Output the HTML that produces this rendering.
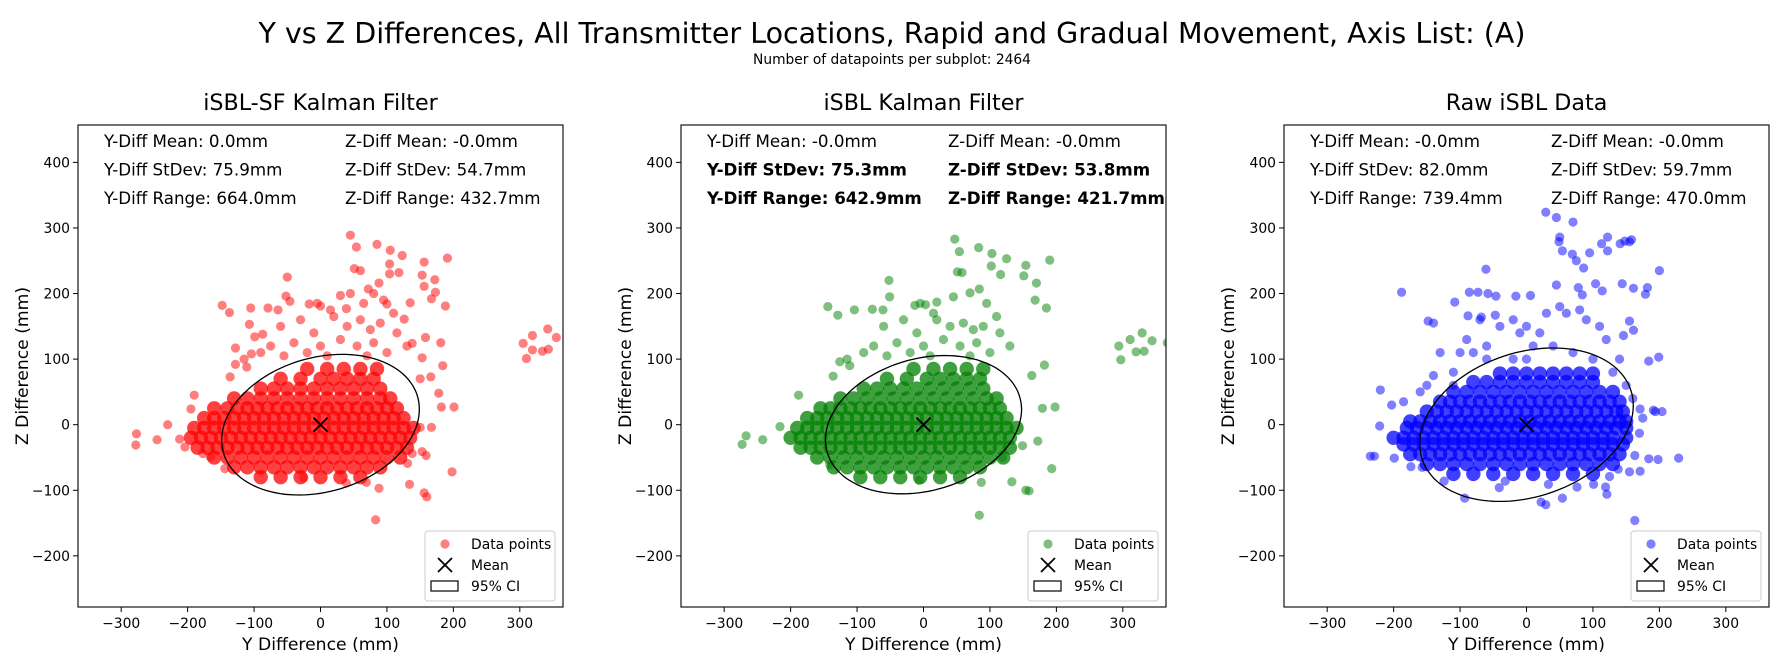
<!DOCTYPE html>
<html>
<head>
<meta charset="utf-8">
<style>
html,body{margin:0;padding:0;background:#fff;}
svg{display:block;font-family:"DejaVu Sans","Liberation Sans",sans-serif;}
</style>
</head>
<body>
<svg id="fig" width="1784" height="666" viewBox="0 0 1784 666" xmlns="http://www.w3.org/2000/svg">
<rect width="1784" height="666" fill="#fff"/>
<text x="892" y="43" font-size="28.5" text-anchor="middle" fill="#000">Y vs Z Differences, All Transmitter Locations, Rapid and Gradual Movement, Axis List: (A)</text>
<text x="892" y="64" font-size="13.8" text-anchor="middle" fill="#000">Number of datapoints per subplot: 2464</text>
</svg>
<script>
// ---- data ----
const panelTitles = ["iSBL-SF Kalman Filter", "iSBL Kalman Filter", "Raw iSBL Data"];
const panelColors = ["#ff0000", "#008000", "#0000ff"];
const xTicks = [-300, -200, -100, 0, 100, 200, 300];
const yTicks = [-200, -100, 0, 100, 200, 300, 400];
const yMeans = ["0.0", "-0.0", "-0.0"];
const zMeans = ["-0.0", "-0.0", "-0.0"];
const yStd = [75.9, 75.3, 82.0];
const zStd = [54.7, 53.8, 59.7];
const yRange = ["664.0", "642.9", "739.4"];
const zRange = ["432.7", "421.7", "470.0"];
const corr = [0.22, 0.22, 0.25];

const redCoreZ = [-80,-65,-50,-35,-20,-5,10,25,40,55,70,85];
const redCoreX = [
 [-90,-60,-30,0,30,60],
 [-130,-110,-90,-70,-50,-30,-10,10,30,50,70,90],
 [-160,-140,-120,-100,-80,-60,-40,-20,0,20,40,60,80,100,120],
 [-185,-170,-155,-140,-125,-110,-95,-80,-65,-50,-35,-20,-5,10,25,40,55,70,85,100,115,130],
 [-195,-180,-165,-150,-135,-120,-105,-90,-75,-60,-45,-30,-15,0,15,30,45,60,75,90,105,120,135],
 [-190,-175,-160,-145,-130,-115,-100,-85,-70,-55,-40,-25,-10,5,20,35,50,65,80,95,110,125,140],
 [-175,-160,-145,-130,-115,-100,-85,-70,-55,-40,-25,-10,5,20,35,50,65,80,95,110,125],
 [-160,-140,-125,-110,-95,-80,-65,-50,-35,-20,-5,10,25,40,55,70,85,100,115],
 [-130,-110,-90,-70,-50,-30,-10,10,30,50,70,90,105],
 [-90,-70,-50,-30,-10,10,30,50,70,90],
 [-60,-30,0,20,40,60,80],
 [-20,10,35,60,85]
];
const redOutY = [45,54,85,105,123,191,156,104,51,60,118,153,172,-50,104,88,156,173,72,167,30,-52,-148,-137,-105,-79,-64,-46,-17,188,135,100,39,0,-107,-87,-99,126,181,-128,-104,-128,-136,-111,158,138,153,184,166,150,-190,178,182,201,-195,-230,-277,-278,-246,-212,-204,167,150,153,159,138,131,198,88,134,156,160,39,69,83,-25,-144,-177,-166,305,310,319,342,355,319,343,334,-60,-30,-10,20,40,60,75,90,-40,0,30,55,80,100,-75,-90,-115,115,130,-55,10,-20,70,45,65,80,95,-5,15,110];
const redOutZ = [289,271,275,266,258,254,248,245,238,235,232,228,221,225,230,216,211,202,207,192,197,196,182,171,178,178,175,188,184,181,186,184,177,181,153,138,134,161,125,117,108,92,73,88,133,124,102,90,73,70,45,48,27,27,24,0,-14,-31,-23,-22,-34,-4,-4,-41,-47,-44,-59,-72,-97,-91,-104,-110,-89,-88,-145,-81,-67,-44,-49,124,101,136,146,133,114,115,112,150,160,140,165,150,160,145,155,125,120,130,120,125,110,120,110,100,140,120,105,105,110,105,200,185,200,190,185,175,170];

const greenCoreZ = [-80,-65,-50,-35,-20,-5,10,25,40,55,70,85];
const greenCoreX = [
 [-95,-65,-35,-5,25,55],
 [-135,-115,-95,-75,-55,-35,-15,5,25,45,65,85],
 [-160,-140,-120,-100,-80,-60,-40,-20,0,20,40,60,80,100,120],
 [-185,-170,-155,-140,-125,-110,-95,-80,-65,-50,-35,-20,-5,10,25,40,55,70,85,100,115,130],
 [-200,-185,-170,-155,-140,-125,-110,-95,-80,-65,-50,-35,-20,-5,10,25,40,55,70,85,100,115,130],
 [-190,-175,-160,-145,-130,-115,-100,-85,-70,-55,-40,-25,-10,5,20,35,50,65,80,95,110,125,140],
 [-175,-160,-145,-130,-115,-100,-85,-70,-55,-40,-25,-10,5,20,35,50,65,80,95,110,125],
 [-155,-140,-125,-110,-95,-80,-65,-50,-35,-20,-5,10,25,40,55,70,85,100,115],
 [-125,-105,-85,-65,-45,-25,-5,15,35,55,75,95,110],
 [-90,-70,-50,-30,-10,10,30,50,70,90],
 [-55,-25,5,25,45,65,85],
 [-15,15,40,65,90]
];
const greenOutY = [47,54,83,103,125,190,154,102,51,58,116,151,-52,170,-144,-129,-104,-77,-61,-13,3,20,185,168,84,70,-51,294,297,311,329,344,320,332,367,-188,-216,-267,-273,-242,198,179,182,163,193,87,133,154,159,84,-7,-141,-136,-126,-111,119,172,149,-60,-30,-10,20,40,60,75,90,-40,0,30,55,80,100,-75,-90,-115,115,130,-55,10,-20,70,45,95,-5,15,110];
const greenOutZ = [283,264,270,261,253,251,243,242,233,232,229,227,220,216,180,167,175,176,175,182,183,187,178,190,207,201,195,120,99,130,140,128,111,112,125,45,-3,-17,-30,-23,27,25,91,75,-67,-88,-87,-100,-101,-138,-85,-61,74,96,90,-50,-25,-32,150,160,140,160,150,155,145,150,125,120,130,120,125,110,120,110,100,140,120,105,105,110,105,195,185,185,170,165];

const blueCoreZ = [-75,-60,-45,-30,-20,-5,5,20,35,50,65,78];
const blueCoreX = [
 [-110,-80,-50,-20,10,40,70,100],
 [-150,-130,-110,-90,-70,-50,-30,-10,10,30,50,70,90,110,130],
 [-175,-160,-145,-130,-115,-100,-85,-70,-55,-40,-25,-10,5,20,35,50,65,80,95,110,125,140],
 [-185,-170,-155,-140,-125,-110,-95,-80,-65,-50,-35,-20,-5,10,25,40,55,70,85,100,115,130,145],
 [-200,-185,-170,-155,-140,-125,-110,-95,-80,-65,-50,-35,-20,-5,10,25,40,55,70,85,100,115,130,150],
 [-180,-165,-150,-135,-120,-105,-90,-75,-60,-45,-30,-15,0,15,30,45,60,75,90,105,120,135,150],
 [-175,-160,-145,-130,-115,-100,-85,-70,-55,-40,-25,-10,5,20,35,50,65,80,95,110,125,140,150],
 [-150,-135,-120,-105,-90,-75,-60,-45,-30,-15,0,15,30,45,60,75,90,105,120,135,145],
 [-130,-115,-100,-85,-70,-55,-40,-25,-10,5,20,35,50,65,80,95,110,125,140],
 [-110,-90,-70,-50,-30,-10,10,30,50,70,90,110,130],
 [-80,-60,-40,-20,0,20,40,60,80,100],
 [-40,-20,0,20,40,60,80,100]
];
const blueOutY = [29,45,70,50,49,54,69,75,86,95,113,122,122,141,148,155,158,200,-61,-188,-86,-73,-58,-46,-16,6,45,104,114,144,161,182,179,78,84,-108,-148,-140,-88,-68,-47,155,161,146,184,199,-220,-203,-185,-221,-235,-229,-199,229,198,184,191,204,194,171,175,170,163,155,171,138,125,119,121,101,76,54,29,22,33,-41,-32,-93,-124,163,-157,-174,-130,-100,-80,-60,-40,-20,0,20,30,50,60,80,90,110,120,-90,-110,-140,140,150,130,-20,0,10,40,70,100,-60,160,-160,-150,-70,-10,-110];
const blueOutZ = [324,316,309,286,279,265,260,250,239,262,276,286,265,276,280,279,282,235,237,202,202,202,200,196,196,197,213,215,204,215,208,209,199,209,198,187,158,155,166,164,167,158,144,136,97,103,53,30,35,-2,-48,-48,-51,-51,-53,-52,22,20,20,24,10,-13,-47,-72,-71,-68,-79,-95,-106,-91,-95,-112,-122,-118,-91,-96,-86,-112,-86,-146,-65,-64,110,110,110,120,150,160,150,140,170,180,170,175,160,150,130,130,80,75,100,60,80,100,100,120,120,110,100,100,40,50,60,160,140,60];

const coresZ = [redCoreZ, greenCoreZ, blueCoreZ];
const coresX = [redCoreX, greenCoreX, blueCoreX];
const outsY = [redOutY, greenOutY, blueOutY];
const outsZ = [redOutZ, greenOutZ, blueOutZ];

// ---- layout ----
const NS = "http://www.w3.org/2000/svg";
const svg = document.getElementById("fig");
const panelLeft = [78, 681, 1284];
const axTop = 125, axW = 485, axH = 482;
const xMin = -365, xMax = 365, yMin = -278, yMax = 457;

function mk(tag, attrs, parent) {
  const e = document.createElementNS(NS, tag);
  for (const k in attrs) e.setAttribute(k, attrs[k]);
  (parent || svg).appendChild(e);
  return e;
}

panelTitles.forEach((title, p) => {
  const x0 = panelLeft[p];
  const sx = v => x0 + (v - xMin) / (xMax - xMin) * axW;
  const sy = v => axTop + (yMax - v) / (yMax - yMin) * axH;

  const g = mk("g", {});
  
  

  const clipId = "clip" + p;
  const cp = mk("clipPath", {id: clipId}, g);
  mk("rect", {x: x0, y: axTop, width: axW, height: axH}, cp);

  const t = mk("text", {x: x0 + axW / 2, y: 110, "font-size": 22.2, "text-anchor": "middle"}, g);
  t.textContent = title;
  
  

  const pts = mk("g", {"clip-path": "url(#" + clipId + ")", fill: panelColors[p], "fill-opacity": 0.5}, g);
  
  
  const core = mk("g", {"fill-opacity": 0.75}, pts);
  
  
  coresZ[p].forEach((z, r) => {
    coresX[p][r].forEach(xv => {
      const c = mk("circle", {cx: sx(xv), cy: sy(z), r: 7.2}, core);
      
      
    });
  });
  outsY[p].forEach((yv, i) => {
    const c = mk("circle", {cx: sx(yv), cy: sy(outsZ[p][i]), r: 4.6}, pts);
    
    
  });

  // 95% CI ellipse
  const k = 1.96, rho = corr[p];
  let d = "";
  for (let i = 0; i <= 120; i++) {
    const a = i / 120 * 2 * Math.PI;
    const ex = k * yStd[p] * Math.cos(a);
    const ey = k * zStd[p] * (rho * Math.cos(a) + Math.sqrt(1 - rho * rho) * Math.sin(a));
    d += (i ? "L" : "M") + sx(ex).toFixed(1) + "," + sy(ey).toFixed(1);
  }
  const el = mk("path", {d: d + "Z", fill: "none", stroke: "#000", "stroke-width": 1.3}, g);
  
  

  // mean marker
  const mx = sx(0), my = sy(0);
  const mm = mk("path", {d: `M${mx-7},${my-7}L${mx+7},${my+7}M${mx-7},${my+7}L${mx+7},${my-7}`, stroke: "#000", "stroke-width": 1.8}, g);
  
  

  // frame
  const fr = mk("rect", {x: x0, y: axTop, width: axW, height: axH, fill: "none", stroke: "#000", "stroke-width": 1.1}, g);
  
  

  // ticks
  xTicks.forEach(v => {
    const X = sx(v);
    mk("line", {x1: X, x2: X, y1: axTop + axH, y2: axTop + axH + 5, stroke: "#000", "stroke-width": 1}, g);
    const tl = mk("text", {x: X, y: axTop + axH + 21, "font-size": 13.9, "text-anchor": "middle"}, g);
    tl.textContent = v < 0 ? "\u2212" + Math.abs(v) : String(v);
    
    
  });
  yTicks.forEach(v => {
    const Y = sy(v);
    mk("line", {x1: x0 - 5, x2: x0, y1: Y, y2: Y, stroke: "#000", "stroke-width": 1}, g);
    const tl = mk("text", {x: x0 - 8, y: Y + 5, "font-size": 13.9, "text-anchor": "end"}, g);
    tl.textContent = v < 0 ? "\u2212" + Math.abs(v) : String(v);
    
    
  });

  const xl = mk("text", {x: x0 + axW / 2, y: 650, "font-size": 17.2, "text-anchor": "middle"}, g);
  xl.textContent = "Y Difference (mm)";
  
  
  const yl = mk("text", {x: 0, y: 0, "font-size": 17.2, "text-anchor": "middle", transform: `translate(${x0 - 50},${axTop + axH / 2}) rotate(-90)`}, g);
  yl.textContent = "Z Difference (mm)";
  
  

  // stats text
  const bold = p === 1;
  const col1 = ["Y-Diff Mean: " + yMeans[p] + "mm", "Y-Diff StDev: " + yStd[p].toFixed(1) + "mm", "Y-Diff Range: " + yRange[p] + "mm"];
  const col2 = ["Z-Diff Mean: " + zMeans[p] + "mm", "Z-Diff StDev: " + zStd[p].toFixed(1) + "mm", "Z-Diff Range: " + zRange[p] + "mm"];
  [col1, col2].forEach((col, c) => {
    col.forEach((s, r) => {
      const st = mk("text", {x: x0 + (c ? 267 : 26), y: 147 + r * 28.5, "font-size": 16.7, "font-weight": (bold && r > 0) ? "bold" : "normal"}, g);
      st.textContent = s;
      
      
    });
  });

  // legend
  const lx = x0 + axW - 138, ly = axTop + axH - 76;
  const lg = mk("g", {}, g);
  
  
  mk("rect", {x: lx, y: ly, width: 130, height: 70, rx: 3, fill: "#fff", "fill-opacity": 0.8, stroke: "#ccc", "stroke-width": 1}, lg);
  const lc = mk("circle", {cx: lx + 20, cy: ly + 13, r: 4.6, fill: panelColors[p], "fill-opacity": 0.5}, lg);
  
  
  mk("path", {d: `M${lx+13},${ly+27}L${lx+27},${ly+41}M${lx+13},${ly+41}L${lx+27},${ly+27}`, stroke: "#000", "stroke-width": 1.8}, lg);
  mk("rect", {x: lx + 6, y: ly + 50, width: 27, height: 10, fill: "none", stroke: "#000", "stroke-width": 1.2}, lg);
  ["Data points", "Mean", "95% CI"].forEach((s, i) => {
    const le = mk("text", {x: lx + 46, y: ly + 18 + i * 21, "font-size": 13.9}, lg);
    le.textContent = s;
    
    
  });
});
</script>
</body>
</html>
